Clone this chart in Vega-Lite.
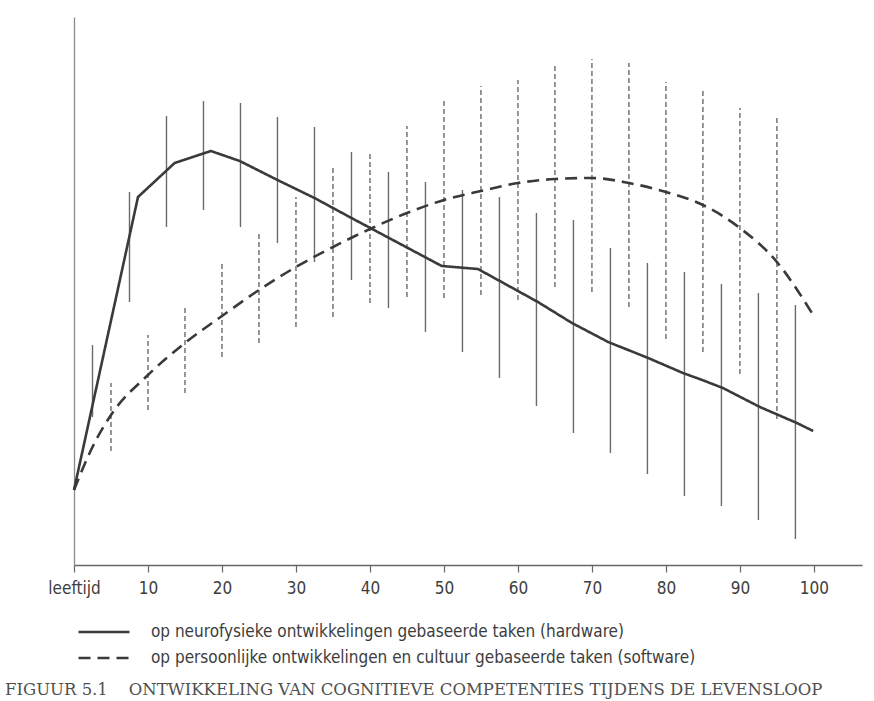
{
  "$schema": "https://vega.github.io/schema/vega-lite/v6.json",
  "width": 788,
  "height": 548,
  "autosize": {"type": "none"},
  "padding": {"left": 74, "top": 17, "right": 12, "bottom": 136},
  "background": "#ffffff",
  "config": {
    "view": {"stroke": null},
    "font": "DejaVu Sans Condensed, sans-serif"
  },
  "title": {
    "text": "FIGUUR 5.1\u00a0\u00a0\u00a0\u00a0ONTWIKKELING VAN COGNITIEVE COMPETENTIES TIJDENS DE LEVENSLOOP",
    "orient": "bottom",
    "anchor": "start",
    "frame": "group",
    "font": "DejaVu Serif, Liberation Serif, serif",
    "fontSize": 16.5,
    "fontWeight": "normal",
    "color": "#505050",
    "baseline": "alphabetic",
    "dx": -69,
    "dy": -40,
    "offset": 64
  },
  "datasets": {
    "hw_line": [
      {"age": 0, "value": 75, "series": "op neurofysieke ontwikkelingen gebaseerde taken (hardware)"},
      {"age": 8.65, "value": 368, "series": "op neurofysieke ontwikkelingen gebaseerde taken (hardware)"},
      {"age": 13.6, "value": 402, "series": "op neurofysieke ontwikkelingen gebaseerde taken (hardware)"},
      {"age": 18.5, "value": 414, "series": "op neurofysieke ontwikkelingen gebaseerde taken (hardware)"},
      {"age": 22.4, "value": 404, "series": "op neurofysieke ontwikkelingen gebaseerde taken (hardware)"},
      {"age": 27.5, "value": 385, "series": "op neurofysieke ontwikkelingen gebaseerde taken (hardware)"},
      {"age": 32.5, "value": 367, "series": "op neurofysieke ontwikkelingen gebaseerde taken (hardware)"},
      {"age": 37.5, "value": 347, "series": "op neurofysieke ontwikkelingen gebaseerde taken (hardware)"},
      {"age": 49.7, "value": 299, "series": "op neurofysieke ontwikkelingen gebaseerde taken (hardware)"},
      {"age": 54.6, "value": 296, "series": "op neurofysieke ontwikkelingen gebaseerde taken (hardware)"},
      {"age": 62.7, "value": 263, "series": "op neurofysieke ontwikkelingen gebaseerde taken (hardware)"},
      {"age": 67.3, "value": 242, "series": "op neurofysieke ontwikkelingen gebaseerde taken (hardware)"},
      {"age": 72.2, "value": 223, "series": "op neurofysieke ontwikkelingen gebaseerde taken (hardware)"},
      {"age": 77.6, "value": 207, "series": "op neurofysieke ontwikkelingen gebaseerde taken (hardware)"},
      {"age": 82.3, "value": 192, "series": "op neurofysieke ontwikkelingen gebaseerde taken (hardware)"},
      {"age": 84.9, "value": 185, "series": "op neurofysieke ontwikkelingen gebaseerde taken (hardware)"},
      {"age": 87.7, "value": 177, "series": "op neurofysieke ontwikkelingen gebaseerde taken (hardware)"},
      {"age": 92.7, "value": 158, "series": "op neurofysieke ontwikkelingen gebaseerde taken (hardware)"},
      {"age": 97.7, "value": 142, "series": "op neurofysieke ontwikkelingen gebaseerde taken (hardware)"},
      {"age": 99.9, "value": 134, "series": "op neurofysieke ontwikkelingen gebaseerde taken (hardware)"}
    ],
    "sw_line": [
      {"age": 0, "value": 75, "series": "op persoonlijke ontwikkelingen en cultuur gebaseerde taken (software)"},
      {"age": 2.5, "value": 118, "series": "op persoonlijke ontwikkelingen en cultuur gebaseerde taken (software)"},
      {"age": 5, "value": 150, "series": "op persoonlijke ontwikkelingen en cultuur gebaseerde taken (software)"},
      {"age": 10, "value": 190, "series": "op persoonlijke ontwikkelingen en cultuur gebaseerde taken (software)"},
      {"age": 15, "value": 222, "series": "op persoonlijke ontwikkelingen en cultuur gebaseerde taken (software)"},
      {"age": 20, "value": 249, "series": "op persoonlijke ontwikkelingen en cultuur gebaseerde taken (software)"},
      {"age": 25, "value": 275, "series": "op persoonlijke ontwikkelingen en cultuur gebaseerde taken (software)"},
      {"age": 30, "value": 298, "series": "op persoonlijke ontwikkelingen en cultuur gebaseerde taken (software)"},
      {"age": 35, "value": 318, "series": "op persoonlijke ontwikkelingen en cultuur gebaseerde taken (software)"},
      {"age": 40, "value": 336, "series": "op persoonlijke ontwikkelingen en cultuur gebaseerde taken (software)"},
      {"age": 45, "value": 352, "series": "op persoonlijke ontwikkelingen en cultuur gebaseerde taken (software)"},
      {"age": 50, "value": 365, "series": "op persoonlijke ontwikkelingen en cultuur gebaseerde taken (software)"},
      {"age": 55, "value": 374, "series": "op persoonlijke ontwikkelingen en cultuur gebaseerde taken (software)"},
      {"age": 60, "value": 382, "series": "op persoonlijke ontwikkelingen en cultuur gebaseerde taken (software)"},
      {"age": 65, "value": 386, "series": "op persoonlijke ontwikkelingen en cultuur gebaseerde taken (software)"},
      {"age": 70, "value": 387, "series": "op persoonlijke ontwikkelingen en cultuur gebaseerde taken (software)"},
      {"age": 75, "value": 382, "series": "op persoonlijke ontwikkelingen en cultuur gebaseerde taken (software)"},
      {"age": 80, "value": 373, "series": "op persoonlijke ontwikkelingen en cultuur gebaseerde taken (software)"},
      {"age": 85, "value": 360, "series": "op persoonlijke ontwikkelingen en cultuur gebaseerde taken (software)"},
      {"age": 90, "value": 337, "series": "op persoonlijke ontwikkelingen en cultuur gebaseerde taken (software)"},
      {"age": 95, "value": 303, "series": "op persoonlijke ontwikkelingen en cultuur gebaseerde taken (software)"},
      {"age": 99.9, "value": 250, "series": "op persoonlijke ontwikkelingen en cultuur gebaseerde taken (software)"}
    ],
    "hw_bars": [
      {"age": 2.5, "low": 148, "high": 220},
      {"age": 7.5, "low": 263, "high": 373},
      {"age": 12.5, "low": 338, "high": 449},
      {"age": 17.5, "low": 355, "high": 464},
      {"age": 22.5, "low": 338, "high": 462},
      {"age": 27.5, "low": 322, "high": 448},
      {"age": 32.5, "low": 303, "high": 438},
      {"age": 37.5, "low": 285, "high": 413},
      {"age": 42.5, "low": 257, "high": 393},
      {"age": 47.5, "low": 233, "high": 383},
      {"age": 52.5, "low": 213, "high": 375},
      {"age": 57.5, "low": 187, "high": 368},
      {"age": 62.5, "low": 159, "high": 352},
      {"age": 67.5, "low": 132, "high": 345},
      {"age": 72.5, "low": 112, "high": 317},
      {"age": 77.5, "low": 91, "high": 302},
      {"age": 82.5, "low": 69, "high": 293},
      {"age": 87.5, "low": 59, "high": 281},
      {"age": 92.5, "low": 45, "high": 272},
      {"age": 97.5, "low": 26, "high": 260}
    ],
    "sw_bars": [
      {"age": 5, "low": 114, "high": 182},
      {"age": 10, "low": 155, "high": 230},
      {"age": 15, "low": 172, "high": 260},
      {"age": 20, "low": 208, "high": 301},
      {"age": 25, "low": 222, "high": 332},
      {"age": 30, "low": 238, "high": 368},
      {"age": 35, "low": 248, "high": 400},
      {"age": 40, "low": 262, "high": 413},
      {"age": 45, "low": 268, "high": 439},
      {"age": 50, "low": 267, "high": 467},
      {"age": 55, "low": 270, "high": 479},
      {"age": 60, "low": 265, "high": 485},
      {"age": 65, "low": 278, "high": 500},
      {"age": 70, "low": 273, "high": 506},
      {"age": 75, "low": 258, "high": 502},
      {"age": 80, "low": 226, "high": 483},
      {"age": 85, "low": 213, "high": 474},
      {"age": 90, "low": 191, "high": 457},
      {"age": 95, "low": 146, "high": 449}
    ]
  },
  "encoding": {
    "x": {
      "field": "age",
      "type": "quantitative",
      "scale": {"domain": [0, 106.5], "nice": false, "zero": false},
      "axis": {
        "title": null,
        "values": [0, 10, 20, 30, 40, 50, 60, 70, 80, 90, 100],
        "labelExpr": "datum.value == 0 ? 'leeftijd' : datum.label",
        "labelFont": "DejaVu Sans Condensed, sans-serif",
        "labelFontSize": 17,
        "labelColor": "#3d3d3d",
        "labelPadding": 8,
        "labelFlush": false,
        "labelOverlap": false,
        "tickSize": 7,
        "tickColor": "#666666",
        "tickWidth": 1.2,
        "domainColor": "#666666",
        "domainWidth": 1.3,
        "grid": false
      }
    }
  },
  "layer": [
    {
      "data": {"name": "hw_bars"},
      "mark": {"type": "rule", "color": "#6a6a6a", "strokeWidth": 1.4},
      "encoding": {
        "y": {
          "field": "low",
          "type": "quantitative",
          "scale": {"domain": [0, 548], "nice": false, "zero": false},
          "axis": {
            "title": null,
            "labels": false,
            "ticks": false,
            "grid": false,
            "domainColor": "#8a8a8a",
            "domainWidth": 1.3
          }
        },
        "y2": {"field": "high"}
      }
    },
    {
      "data": {"name": "sw_bars"},
      "mark": {"type": "rule", "color": "#6a6a6a", "strokeWidth": 1.4, "strokeDash": [5, 3]},
      "encoding": {
        "y": {"field": "low", "type": "quantitative"},
        "y2": {"field": "high"}
      }
    },
    {
      "data": {"name": "hw_line"},
      "mark": {"type": "line", "color": "#3a3a3a", "strokeWidth": 2.6, "interpolate": "linear"},
      "encoding": {
        "y": {"field": "value", "type": "quantitative"},
        "strokeDash": {
          "field": "series",
          "type": "nominal",
          "scale": {
            "domain": [
              "op neurofysieke ontwikkelingen gebaseerde taken (hardware)",
              "op persoonlijke ontwikkelingen en cultuur gebaseerde taken (software)"
            ],
            "range": [[1, 0], [12, 7]]
          },
          "legend": {
            "title": null,
            "orient": "none",
            "legendX": 3,
            "legendY": 602,
            "direction": "vertical",
            "symbolType": "stroke",
            "symbolSize": 2601,
            "symbolStrokeWidth": 2.6,
            "symbolStrokeColor": "#3a3a3a",
            "clipHeight": 26,
            "rowPadding": 0,
            "padding": 0,
            "labelOffset": 20,
            "labelFont": "DejaVu Sans Condensed, sans-serif",
            "labelFontSize": 17,
            "labelColor": "#3d3d3d",
            "labelLimit": 700
          }
        }
      }
    },
    {
      "data": {"name": "sw_line"},
      "mark": {"type": "line", "color": "#3a3a3a", "strokeWidth": 2.6, "interpolate": "monotone"},
      "encoding": {
        "y": {"field": "value", "type": "quantitative"},
        "strokeDash": {"field": "series", "type": "nominal"}
      }
    }
  ]
}
